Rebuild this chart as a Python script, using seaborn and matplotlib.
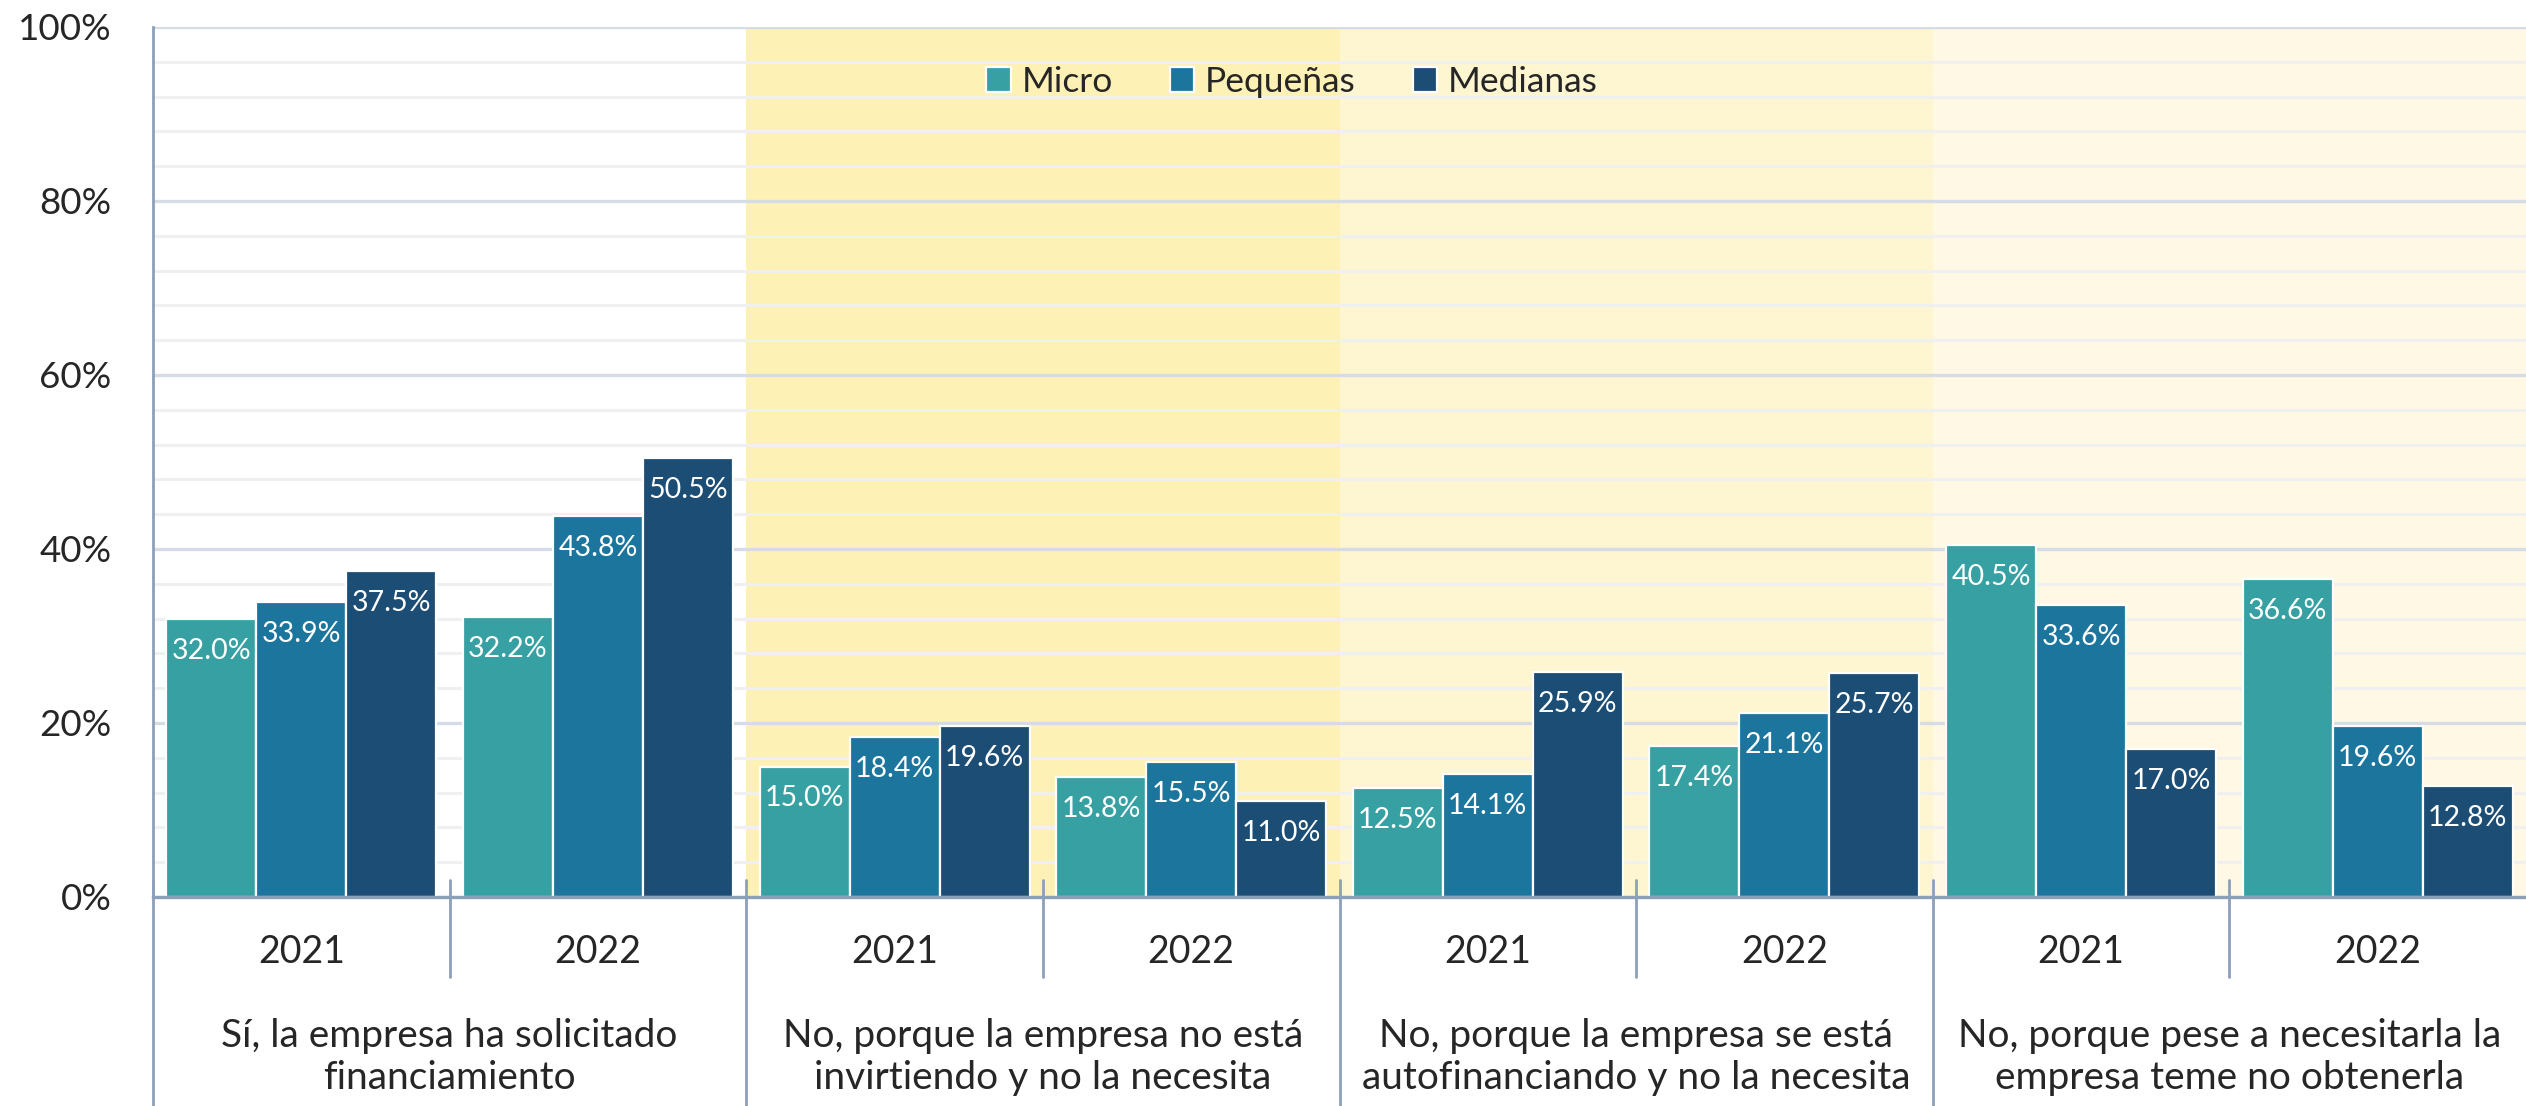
import pandas as pd
import seaborn as sns
import matplotlib.pyplot as plt
import matplotlib.transforms as mtransforms
from matplotlib.ticker import MultipleLocator

categories = ['Sí, la empresa ha solicitado\nfinanciamiento',
              'No, porque la empresa no está\ninvirtiendo y no la necesita',
              'No, porque la empresa se está\nautofinanciando y no la necesita',
              'No, porque pese a necesitarla la\nempresa teme no obtenerla']
years = ['2021', '2022']
sizes = ['Micro', 'Pequeñas', 'Medianas']

micro = [32.0, 32.2, 15.0, 13.8, 12.5, 17.4, 40.5, 36.6]
pequenas = [33.9, 43.8, 18.4, 15.5, 14.1, 21.1, 33.6, 19.6]
medianas = [37.5, 50.5, 19.6, 11.0, 25.9, 25.7, 17.0, 12.8]

colors = ['#36A0A2', '#1C759D', '#1B4D75']
shades = [None, '#FEF1B6', '#FEF5D1', '#FEF8E4']
line_col = '#8DA0B9'

slots = [f'{c}|{y}' for c in categories for y in years]
rows = []
for name, vals in zip(sizes, [micro, pequenas, medianas]):
    for s, v in zip(slots, vals):
        rows.append({'slot': s, 'size': name, 'value': v})
df = pd.DataFrame(rows)

sns.set_style('white')
plt.rcParams['font.family'] = ['Lato', 'DejaVu Sans']

fig = plt.figure(figsize=(25.26, 11.06), dpi=100)
ax = fig.add_axes([153 / 2526, 1 - 897 / 1106, 1 - 153 / 2526, 870 / 1106])

# background shading per category
for i, col in enumerate(shades):
    if col:
        ax.axvspan(2 * i - 0.5, 2 * i + 1.5, color=col, zorder=0.1, lw=0)

sns.barplot(data=df, x='slot', y='value', hue='size', order=slots, hue_order=sizes,
            palette=colors, width=0.91, edgecolor='white', linewidth=1.6,
            saturation=1, ax=ax, zorder=2)

ax.set_xlim(-0.5, 7.5)
ax.set_ylim(0, 100)
ax.yaxis.set_major_locator(MultipleLocator(20))
ax.yaxis.set_minor_locator(MultipleLocator(4))
ax.set_yticks(range(0, 101, 20))
ax.set_yticklabels([f'{v}%' for v in range(0, 101, 20)], fontsize=26.5)
ax.tick_params(axis='y', which='both', length=0, pad=30)
ax.grid(axis='y', which='minor', color='#F0F0F0', lw=2.2, zorder=0.5)
ax.grid(axis='y', which='major', color='#D5DCE6', lw=2.4, zorder=0.6)
ax.set_axisbelow(True)
ax.set_xticks([])
ax.set_xlabel('')
ax.set_ylabel('')

for sp in ['top', 'right']:
    ax.spines[sp].set_visible(False)
ax.spines['left'].set_color(line_col)
ax.spines['left'].set_linewidth(2)
ax.spines['bottom'].set_color(line_col)
ax.spines['bottom'].set_linewidth(2.4)
ax.spines['bottom'].set_zorder(3)

# data labels inside bars
for cont in ax.containers:
    for bar in cont:
        h = bar.get_height()
        ax.annotate(f'{h:.1f}%', (bar.get_x() + bar.get_width() / 2, h),
                    xytext=(0, -23), textcoords='offset points',
                    ha='center', va='center', color='white', fontsize=20.5, zorder=4)

# two-level x axis labels
trans = mtransforms.blended_transform_factory(ax.transData, ax.transAxes)
ax_h = 870
for k, s in enumerate(slots):
    ax.text(k, -55 / ax_h, s.split('|')[1], transform=trans, ha='center', va='center',
            fontsize=27, clip_on=False)
for i, c in enumerate(categories):
    ax.text(2 * i + 0.5, -160 / ax_h, c, transform=trans, ha='center', va='center',
            fontsize=28, linespacing=1.2, clip_on=False)

for b in [-0.5, 1.5, 3.5, 5.5]:
    ax.plot([b, b], [17 / ax_h, -209 / ax_h], transform=trans, color=line_col, lw=2,
            clip_on=False, zorder=3)
for b in [0.5, 2.5, 4.5, 6.5]:
    ax.plot([b, b], [17 / ax_h, -80 / ax_h], transform=trans, color=line_col, lw=2,
            clip_on=False, zorder=3)

ax.legend(loc='center', bbox_to_anchor=(0.48, 0.937), ncol=3, frameon=False,
          fontsize=25.5, handlelength=0.7, handleheight=0.7, handletextpad=0.3,
          columnspacing=1.6)

fig.savefig('out.png', dpi=100)
